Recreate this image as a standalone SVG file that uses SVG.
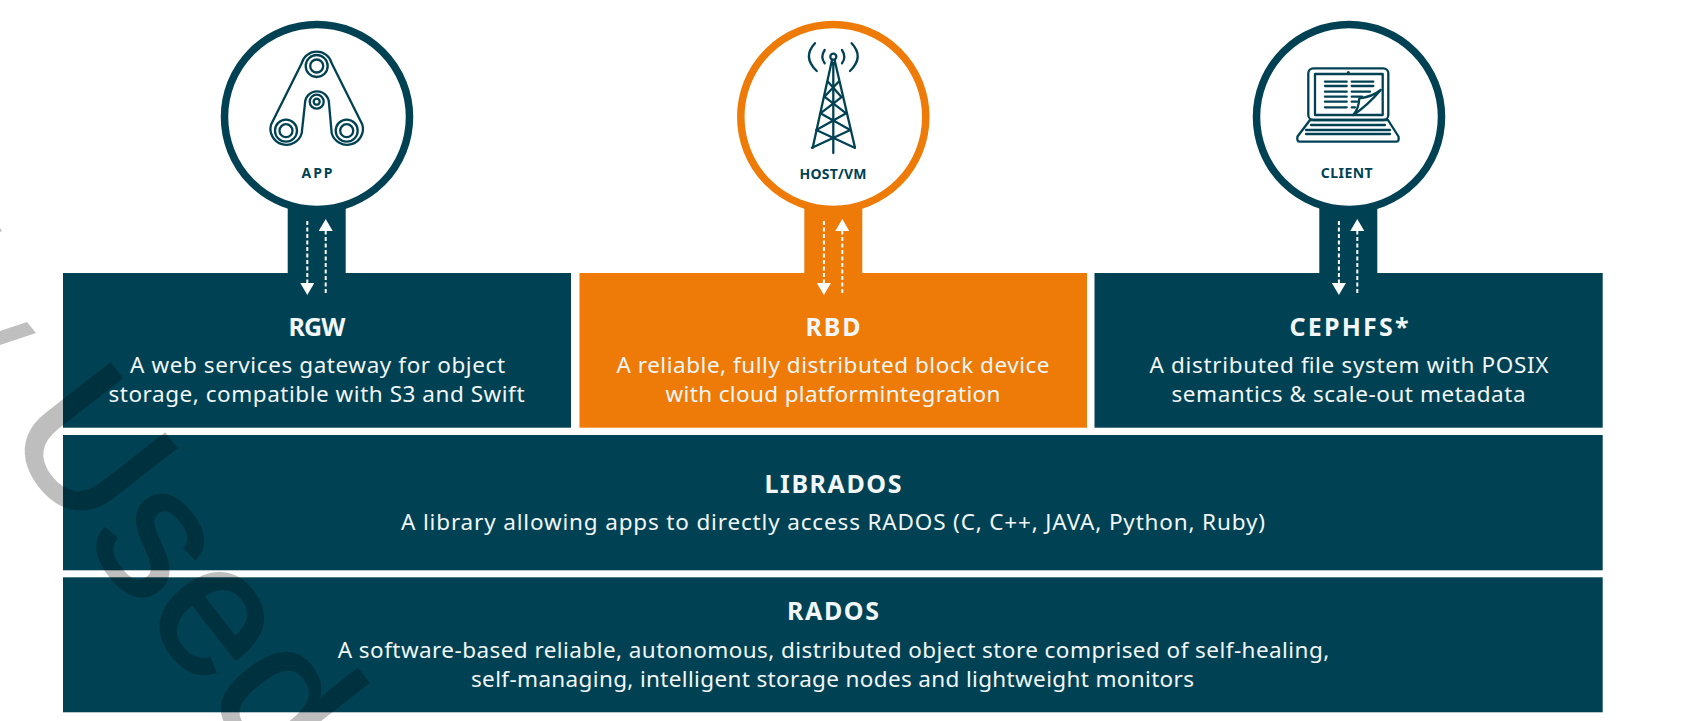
<svg xmlns="http://www.w3.org/2000/svg" width="1699" height="721" viewBox="0 0 1699 721">
<style>
.teal{fill:#004254}
.orange{fill:#ee7b08}
.ring{fill:#fff;stroke-width:7.5}
.t{font-family:"Noto Sans","Liberation Sans",sans-serif;fill:#f2f6f7;text-anchor:middle}
.title{font-size:25px;font-weight:700}
.desc{font-size:22.5px}
.lab{font-family:"Noto Sans","Liberation Sans",sans-serif;font-size:14px;font-weight:700;fill:#004254;text-anchor:middle}
.ic{fill:none;stroke:#004254;stroke-width:2.3;stroke-linecap:round;stroke-linejoin:round}
.dash{stroke:#fff;stroke-width:2;stroke-dasharray:4 2.5;fill:none}
.wm{font-family:"Liberation Sans",Arial,sans-serif;font-size:187px;fill:#000;stroke:#000;stroke-width:3;opacity:.25}
</style>
<defs>
<marker id="head" markerUnits="userSpaceOnUse" markerWidth="14" markerHeight="14" refX="0" refY="7" orient="auto"><path d="M0 0L12 7L0 14Z" fill="#fff"/></marker>
<g id="belt"><path class="ic" d="M301.7 63.3A15.5 15.5 0 0 1 331.7 63.3L362.3 124.5A15.5 15.5 0 1 1 331.7 133.3L329 103.3A12 12 0 0 0 305 103.3L301.7 133.3A15.5 15.5 0 1 1 271.1 124.5Z"/></g>
</defs>
<rect width="1699" height="721" fill="#fff"/>

<g id="connectors">
<rect class="teal" x="287.7" y="190" width="58" height="90"/>
<rect class="orange" x="804.3" y="190" width="58" height="90"/>
<rect class="teal" x="1319.3" y="190" width="58" height="90"/>
</g>

<g id="rgw"><rect class="teal" x="63" y="273" width="508" height="154.7"/>
<text class="t title" x="317" y="336" textLength="57">RGW</text>
<text class="t desc" x="317.5" y="373" textLength="375">A web services gateway for object</text>
<text class="t desc" x="316.5" y="402" textLength="416">storage, compatible with S3 and Swift</text></g>
<g id="rbd"><rect class="orange" x="579.5" y="273" width="507.5" height="154.7"/>
<text class="t title" x="833" y="336" textLength="55">RBD</text>
<text class="t desc" x="833" y="373" textLength="433">A reliable, fully distributed block device</text>
<text class="t desc" x="833" y="402" textLength="335">with cloud platformintegration</text></g>
<g id="cephfs"><rect class="teal" x="1094.5" y="273" width="508.2" height="154.7"/>
<text class="t title" x="1349" y="336" textLength="119">CEPHFS*</text>
<text class="t desc" x="1349" y="373" textLength="399">A distributed file system with POSIX</text>
<text class="t desc" x="1348.5" y="402" textLength="354">semantics &amp; scale-out metadata</text></g>
<g id="librados"><rect class="teal" x="63" y="435" width="1539.7" height="135.3"/>
<text class="t title" x="833" y="492.7" textLength="137">LIBRADOS</text>
<text class="t desc" x="833" y="530" textLength="864">A library allowing apps to directly access RADOS (C, C++, JAVA, Python, Ruby)</text></g>
<g id="rados"><rect class="teal" x="63" y="577.3" width="1539.7" height="135"/>
<text class="t title" x="833" y="620" textLength="92">RADOS</text>
<text class="t desc" x="833.5" y="658" textLength="991.5">A software-based reliable, autonomous, distributed object store comprised of self-healing,</text>
<text class="t desc" x="832.5" y="686.7" textLength="723">self-managing, intelligent storage nodes and lightweight monitors</text></g>

<g id="arrows">
<path class="dash" d="M307.3 221V283" marker-end="url(#head)"/><path class="dash" d="M325.7 293V231" marker-end="url(#head)"/>
<path class="dash" d="M823.9 221V283" marker-end="url(#head)"/><path class="dash" d="M842.3 293V231" marker-end="url(#head)"/>
<path class="dash" d="M1338.9 221V283" marker-end="url(#head)"/><path class="dash" d="M1357.3 293V231" marker-end="url(#head)"/>
</g>

<g id="app"><circle class="ring" cx="317" cy="117" r="92.5" stroke="#004254"/>
<use href="#belt"/>
<circle class="ic" cx="316.7" cy="66" r="11"/><circle class="ic" cx="316.7" cy="66" r="6.5"/>
<circle class="ic" cx="286" cy="130.7" r="11"/><circle class="ic" cx="286" cy="130.7" r="6.5"/>
<circle class="ic" cx="346.7" cy="130.7" r="11"/><circle class="ic" cx="346.7" cy="130.7" r="6.5"/>
<circle class="ic" cx="316.7" cy="101.7" r="7"/><circle class="ic" cx="316.7" cy="101.7" r="3"/>
<text class="lab" x="317" y="178" textLength="31">APP</text></g>

<g id="host"><circle class="ring" cx="833.3" cy="117" r="92.5" stroke="#ee7b08"/>
<circle class="ic" cx="833.3" cy="56.7" r="3"/>
<path class="ic" stroke-width="2.6" d="M832 60L812.7 147.7M834.6 60L855 147.7M833.3 63V153"/>
<path class="ic" d="M828 81.7L841.2 96.7M838.6 81.7L824.4 96.7M824.4 96.7L846.2 113.3M842.2 96.7L820.4 113.3M820.4 113.3L850.3 130M846.2 113.3L816.3 130M816.3 130L854.6 147.7M850.3 130L812 147.7" stroke-width="1.8"/>
<path class="ic" stroke-width="2.5" d="M815 43.3Q802 57 816.7 71M824.7 50Q820 57 824.7 63.3M851.6 43.3Q864.6 57 850 71M842 50Q846.6 57 842 63.3"/>
<text class="lab" x="833" y="179" textLength="67">HOST/VM</text></g>

<g id="client"><circle class="ring" cx="1349" cy="117" r="92.5" stroke="#004254"/>
<rect class="ic" x="1308.3" y="68.3" width="80" height="51.7" rx="5"/>
<rect class="ic" x="1315" y="74" width="67.7" height="41"/>
<circle cx="1348.3" cy="72.7" r="1.6" fill="#004254"/>
<path class="ic" d="M1310 120L1297.5 136.5Q1296.5 141.7 1300 141.7H1396Q1399.5 141.7 1398.5 136.5L1388 120Z"/>
<path class="ic" stroke-width="1.4" d="M1311 125H1385M1306 130H1390M1306 134H1390"/>
<path class="ic" stroke-width="1.5" d="M1325 81.7H1346.7M1325 86H1346.7M1325 91.7H1346.7M1325 96.7H1346.7M1325 101.7H1346.7M1325 107.3H1346.7M1351.7 81.7H1373.3M1351.7 86H1373.3M1351.7 91.7H1370M1351.7 96.7H1362M1351.7 101.7H1357M1351.7 107.3H1355"/>
<path class="ic" d="M1353.3 115Q1368 105 1380.7 90Q1372 97 1359.3 98.3Q1359 108 1353.3 115"/>
<text class="lab" x="1346.7" y="178" textLength="52">CLIENT</text></g>

<g id="watermark">
<text class="wm" transform="translate(0 432) rotate(52)">Used</text>
<polygon points="0,345 36,333 27,322 0,331" fill="#000" fill-opacity=".25"/>
<polygon points="0,228 2,231 0,232" fill="#000" fill-opacity=".25"/>
</g>
</svg>
